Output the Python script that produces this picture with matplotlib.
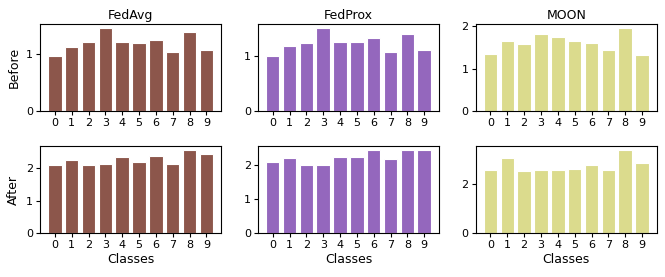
import matplotlib
matplotlib.use("Agg")
import matplotlib.pyplot as plt
import numpy as np

classes = ["0", "1", "2", "3", "4", "5", "6", "7", "8", "9"]
methods = ["FedAvg", "FedProx", "MOON"]
rows = ["Before", "After"]
colors = ["#8c564b", "#9467bd", "#dbdb8d"]

fedavg_before = [0.97, 1.13, 1.21, 1.45, 1.21, 1.19, 1.24, 1.04, 1.38, 1.07]
fedprox_before = [1.00, 1.17, 1.23, 1.49, 1.25, 1.24, 1.31, 1.07, 1.38, 1.10]
moon_before = [1.34, 1.65, 1.58, 1.81, 1.74, 1.65, 1.60, 1.43, 1.95, 1.32]
fedavg_after = [2.09, 2.26, 2.11, 2.15, 2.34, 2.20, 2.37, 2.13, 2.56, 2.44]
fedprox_after = [2.11, 2.21, 2.02, 2.02, 2.26, 2.24, 2.45, 2.18, 2.45, 2.45]
moon_after = [2.57, 3.03, 2.53, 2.58, 2.57, 2.62, 2.77, 2.55, 3.36, 2.84]

data = [[fedavg_before, fedprox_before, moon_before],
        [fedavg_after, fedprox_after, moon_after]]

fig, axes = plt.subplots(2, 3, figsize=(6.65, 2.77), dpi=100)
fig.subplots_adjust(left=0.06, right=0.988, top=0.913, bottom=0.158, wspace=0.2, hspace=0.4)

x = np.arange(len(classes))
for r in range(2):
    for c in range(3):
        ax = axes[r, c]
        ax.bar(x, data[r][c], color=colors[c], edgecolor="white", linewidth=0.8, width=0.8)
        ax.set_xticks(x)
        ax.set_xticklabels(classes, fontsize=8)
        ax.tick_params(axis="y", labelsize=8, length=3, pad=2)
        ax.tick_params(axis="x", length=3, pad=2)
        if r == 0:
            ax.set_title(methods[c], fontsize=9, pad=4)
        else:
            ax.set_xlabel("Classes", fontsize=9, labelpad=2)
        if c == 0:
            ax.set_ylabel(rows[r], fontsize=9, labelpad=4)
        for s in ax.spines.values():
            s.set_linewidth(0.8)

fig.savefig("out.png", dpi=100)
